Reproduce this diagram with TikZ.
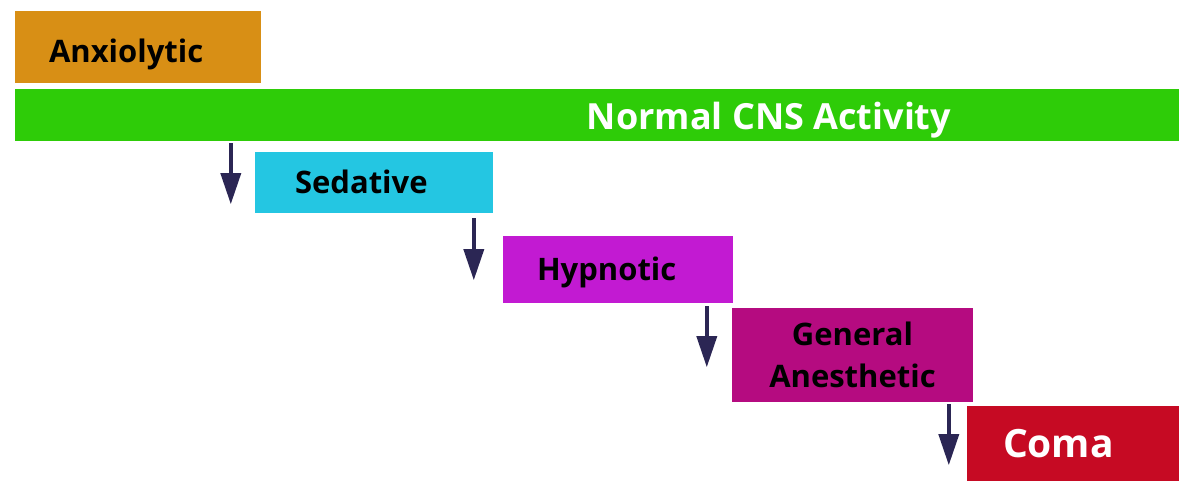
\documentclass[tikz,border=0pt]{standalone}
\usepackage{fontspec}
\setmainfont{Open Sans}
\usetikzlibrary{arrows.meta,calc}
\definecolor{anxc}{HTML}{D88F15}
\definecolor{barc}{HTML}{2ECC08}
\definecolor{sedc}{HTML}{24C6E2}
\definecolor{hypc}{HTML}{C21AD2}
\definecolor{genc}{HTML}{B50B80}
\definecolor{comac}{HTML}{C60A23}
\definecolor{arrc}{HTML}{2B2654}
\tikzset{
  stagebox/.style={draw=none, rectangle, inner ysep=0pt, align=left,
    font=\bfseries\fontsize{31}{37}\selectfont, text=black,
    text height=22pt, text depth=0pt},
  arr/.style={draw=arrc, line width=3.5pt, -{Triangle[length=31pt,width=20pt]}}
}
\begin{document}
\begin{tikzpicture}[x=1pt,y=1pt]
\useasboundingbox (0,0) rectangle (1179,481);
\node[stagebox, fill=anxc, minimum width=246pt, minimum height=72pt,
      inner xsep=34pt, text width=178pt, text height=31pt] (anx) at (138,434) {Anxiolytic};
\node[fill=barc, minimum width=1164pt, minimum height=52pt, inner sep=0pt] (bar) at (597,366) {};
\node[font=\bfseries\fontsize{36}{43}\selectfont, text=white, inner sep=0pt,
      text height=25.7pt, text depth=0pt] (barlabel) at (769,364.5) {Normal CNS Activity};
\node[stagebox, fill=sedc, minimum width=238pt, minimum height=61pt,
      inner xsep=40pt, text width=158pt] (sed) at (374,298.5) {Sedative};
\node[stagebox, fill=hypc, minimum width=230pt, minimum height=67pt,
      inner xsep=34pt, text width=162pt] (hyp) at (618,211.5) {Hypnotic};
\node[fill=genc, minimum width=241pt, minimum height=94pt, inner sep=0pt, align=center,
      font=\bfseries\fontsize{31}{42}\selectfont, text=black] (gen) at (852.5,126) {General\\Anesthetic};
\node[stagebox, fill=comac, text=white, minimum width=212pt, minimum height=75pt,
      inner xsep=36pt, text width=140pt, font=\bfseries\fontsize{39}{46}\selectfont,
      text height=28pt] (coma) at (1073,37.5) {Coma};
\draw[arr] ($(bar.south -| sed.west)+(-24,-2)$) -- ($(sed.south -| sed.west)+(-24,9)$);
\draw[arr] ($(sed.south -| hyp.west)+(-29,-5)$) -- ($(hyp.south -| hyp.west)+(-29,23)$);
\draw[arr] ($(hyp.south -| gen.west)+(-25,-3)$) -- ($(gen.south -| gen.west)+(-25,35)$);
\draw[arr] ($(gen.south -| coma.west)+(-18,-2)$) -- ($(coma.south -| coma.west)+(-18,16)$);
\end{tikzpicture}
\end{document}
